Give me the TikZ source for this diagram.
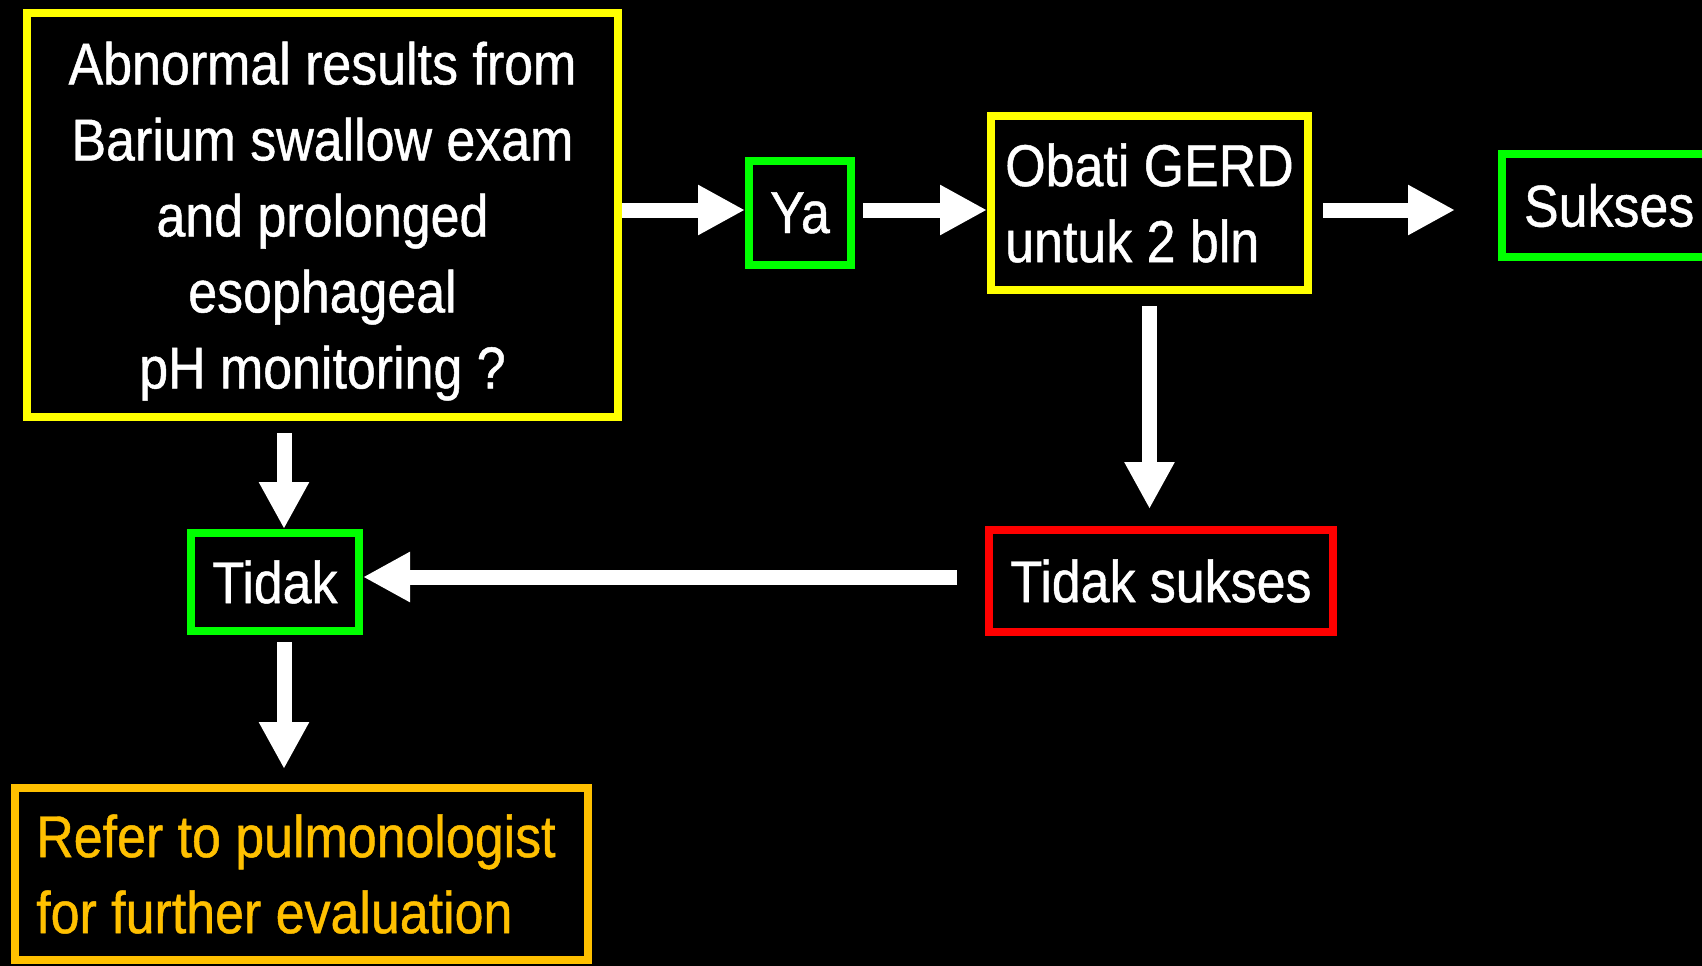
\documentclass[tikz,border=0pt]{standalone}
\usepackage{fontspec}
\setmainfont{Liberation Sans}[FakeStretch=0.88,FakeBold=0.8]
\usetikzlibrary{arrows.meta}
\definecolor{cyel}{HTML}{FFFF00}
\definecolor{cgrn}{HTML}{00FF00}
\definecolor{cred}{HTML}{FF0000}
\definecolor{cgold}{HTML}{FFC000}
\begin{document}
\begin{tikzpicture}[x=1pt,y=-1pt,
  box/.style={line width=8pt, inner sep=0pt, text=white, align=center,
    font=\fontsize{59}{76}\selectfont},
  flow/.style={white, line width=15pt, -{Triangle[width=47pt,length=47pt]}}]
\fill[black] (0,0) rectangle (1702,966);
\useasboundingbox (0,0) rectangle (1702,966);
\begin{scope}
\clip (0,0) rectangle (1702,966);
\node[box, draw=cyel, minimum width=591pt, minimum height=404pt] (main) at (322.5,215)
  {\rule{0pt}{55pt}Abnormal results from\\Barium swallow exam\\and prolonged\\esophageal\\pH monitoring ?};
\node[box, draw=cgrn, minimum width=102pt, minimum height=104pt] (ya) at (800,213) {Ya};
\node[box, draw=cyel, minimum width=317pt, minimum height=174pt, align=left] (obati) at (1149.5,203)
  {Obati GERD\\untuk 2 bln};
\node[box, draw=cgrn, anchor=west, minimum height=103pt, text width=230pt, align=left,
  inner xsep=22pt] (sukses) at (1498,205.5) {Sukses};
\node[box, draw=cgrn, minimum width=168pt, minimum height=98pt] (tidak) at (275,582) {Tidak};
\node[box, draw=cred, minimum width=344pt, minimum height=102pt] (ts) at (1161,581) {Tidak sukses};
\node[box, draw=cgold, text=cgold, minimum width=573pt, minimum height=172pt, align=left]
  (refer) at (301.5,874) {Refer to pulmonologist\hspace*{11pt}\\for further evaluation};
\end{scope}
\coordinate (row) at (0,210);
\draw[flow] (main.east |- row) -- (ya.west |- row);
\draw[flow, shorten <=8pt] (ya.east |- row) -- (obati.west |- row);
\draw[flow, shorten <=11pt, shorten >=43pt] (obati.east |- row) -- (sukses.west |- row);
\draw[flow, shorten <=12pt] ([xshift=9pt]main.south -| tidak.north) -- ([xshift=9pt]tidak.north);
\draw[flow, shorten <=12pt, shorten >=17pt] (obati.south) -- (obati.south |- ts.north);
\draw[flow, shorten <=28pt] (ts.west |- 0,577) -- (tidak.east |- 0,577);
\draw[flow, shorten <=7pt, shorten >=15pt] ([xshift=9pt]tidak.south) -- ([xshift=9pt]tidak.south |- refer.north);
\end{tikzpicture}
\end{document}
